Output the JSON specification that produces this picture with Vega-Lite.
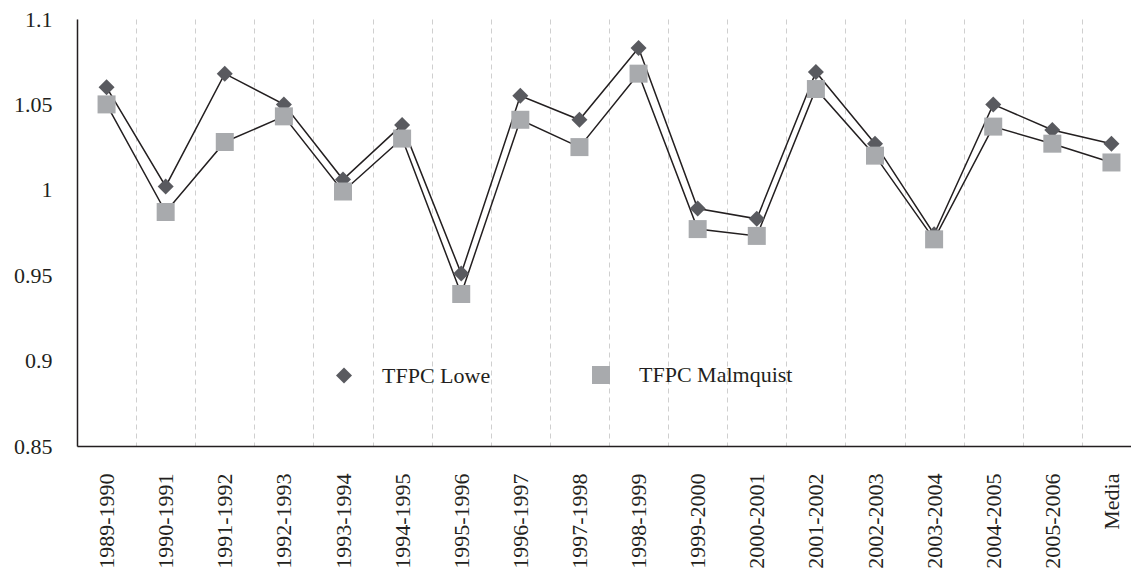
{
  "$schema": "https://vega.github.io/schema/vega-lite/v6.json",
  "autosize": {"type": "none"},
  "width": 1064,
  "height": 427,
  "padding": {"left": 77, "top": 19, "right": 0, "bottom": 129},
  "background": "white",
  "config": {
    "font": "Liberation Serif",
    "view": {"stroke": null},
    "axis": {"labelFont": "Liberation Serif", "labelColor": "#231f20", "labelFontSize": 22, "domainColor": "#231f20", "domainWidth": 1.5, "ticks": false, "tickSize": 0, "title": null},
    "legend": {"labelFont": "Liberation Serif", "labelFontSize": 22, "labelColor": "#231f20", "padding": 0}
  },
  "data": {
    "values": [
      {"period": "1989-1990", "series": "TFPC Lowe", "value": 1.060},
      {"period": "1990-1991", "series": "TFPC Lowe", "value": 1.002},
      {"period": "1991-1992", "series": "TFPC Lowe", "value": 1.068},
      {"period": "1992-1993", "series": "TFPC Lowe", "value": 1.050},
      {"period": "1993-1994", "series": "TFPC Lowe", "value": 1.006},
      {"period": "1994-1995", "series": "TFPC Lowe", "value": 1.038},
      {"period": "1995-1996", "series": "TFPC Lowe", "value": 0.951},
      {"period": "1996-1997", "series": "TFPC Lowe", "value": 1.055},
      {"period": "1997-1998", "series": "TFPC Lowe", "value": 1.041},
      {"period": "1998-1999", "series": "TFPC Lowe", "value": 1.083},
      {"period": "1999-2000", "series": "TFPC Lowe", "value": 0.989},
      {"period": "2000-2001", "series": "TFPC Lowe", "value": 0.983},
      {"period": "2001-2002", "series": "TFPC Lowe", "value": 1.069},
      {"period": "2002-2003", "series": "TFPC Lowe", "value": 1.027},
      {"period": "2003-2004", "series": "TFPC Lowe", "value": 0.974},
      {"period": "2004-2005", "series": "TFPC Lowe", "value": 1.050},
      {"period": "2005-2006", "series": "TFPC Lowe", "value": 1.035},
      {"period": "Media", "series": "TFPC Lowe", "value": 1.027},
      {"period": "1989-1990", "series": "TFPC Malmquist", "value": 1.050},
      {"period": "1990-1991", "series": "TFPC Malmquist", "value": 0.987},
      {"period": "1991-1992", "series": "TFPC Malmquist", "value": 1.028},
      {"period": "1992-1993", "series": "TFPC Malmquist", "value": 1.043},
      {"period": "1993-1994", "series": "TFPC Malmquist", "value": 0.999},
      {"period": "1994-1995", "series": "TFPC Malmquist", "value": 1.030},
      {"period": "1995-1996", "series": "TFPC Malmquist", "value": 0.939},
      {"period": "1996-1997", "series": "TFPC Malmquist", "value": 1.041},
      {"period": "1997-1998", "series": "TFPC Malmquist", "value": 1.025},
      {"period": "1998-1999", "series": "TFPC Malmquist", "value": 1.068},
      {"period": "1999-2000", "series": "TFPC Malmquist", "value": 0.977},
      {"period": "2000-2001", "series": "TFPC Malmquist", "value": 0.973},
      {"period": "2001-2002", "series": "TFPC Malmquist", "value": 1.059},
      {"period": "2002-2003", "series": "TFPC Malmquist", "value": 1.020},
      {"period": "2003-2004", "series": "TFPC Malmquist", "value": 0.971},
      {"period": "2004-2005", "series": "TFPC Malmquist", "value": 1.037},
      {"period": "2005-2006", "series": "TFPC Malmquist", "value": 1.027},
      {"period": "Media", "series": "TFPC Malmquist", "value": 1.016}
    ]
  },
  "encoding": {
    "x": {
      "field": "period", "type": "nominal", "sort": null,
      "scale": {"type": "band", "paddingInner": 0, "paddingOuter": 0},
      "axis": {"labelAngle": -90, "labelPadding": 27, "grid": true, "gridDash": [5, 4], "gridColor": "#cfcfcf", "gridWidth": 1, "tickBand": "extent", "labelOverlap": false}
    },
    "y": {
      "field": "value", "type": "quantitative",
      "scale": {"domain": [0.85, 1.1], "zero": false, "nice": false},
      "axis": {"values": [0.85, 0.9, 0.95, 1, 1.05, 1.1], "grid": false, "labelPadding": 25, "zindex": 1, "labelExpr": "datum.value == 1 ? '1' : format(datum.value, '.3~f')"}
    }
  },
  "layer": [
    {
      "mark": {"type": "line", "color": "#231f20", "strokeWidth": 1.5},
      "encoding": {"detail": {"field": "series"}}
    },
    {
      "mark": {"type": "point", "filled": true, "opacity": 1},
      "encoding": {
        "color": {
          "field": "series", "type": "nominal",
          "scale": {"domain": ["TFPC Lowe", "TFPC Malmquist"], "range": ["#595a5f", "#a8aaad"]},
          "legend": {"title": null, "orient": "none", "direction": "horizontal", "legendX": 256, "legendY": 345, "symbolSize": 289, "labelOffset": 27, "columnPadding": 98, "symbolOpacity": 1}
        },
        "shape": {
          "field": "series", "type": "nominal",
          "scale": {"domain": ["TFPC Lowe", "TFPC Malmquist"], "range": ["diamond", "square"]}
        },
        "size": {
          "field": "series", "type": "nominal",
          "scale": {"domain": ["TFPC Lowe", "TFPC Malmquist"], "range": [256, 324]},
          "legend": null
        }
      }
    }
  ]
}
